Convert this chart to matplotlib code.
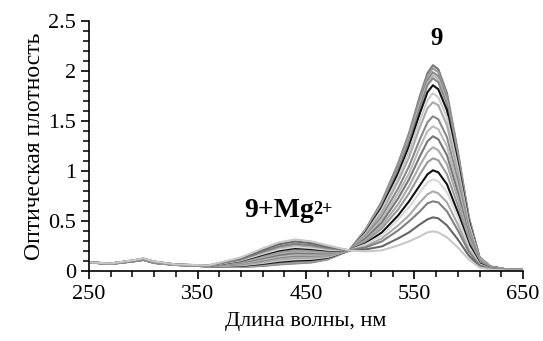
import matplotlib
matplotlib.use("Agg")
import matplotlib.pyplot as plt
from matplotlib.ticker import MultipleLocator, FuncFormatter

plt.rcParams['font.family'] = ['Liberation Serif', 'DejaVu Serif']

# wavelength grid, nm
wavelength = [250, 270, 290, 300, 310, 330, 360, 390, 410, 425, 440, 455, 470, 490,
              505, 520, 535, 545, 555, 562, 567, 572, 580, 590, 600, 610, 620, 635, 650]

# titration spectra, free 9 (top) -> 9+Mg2+ (bottom)
spectra = [
    [.09, .075, .10, .115, .085, .065, .050, .045, .055, .070, .080, .090, .120, .21,
     .42, .70, 1.08, 1.38, 1.75, 1.98, 2.06, 2.02, 1.78, 1.20, .55, .14, .050, .02, .02],
    [.09, .075, .10, .115, .085, .065, .050, .046, .058, .074, .084, .094, .123, .21,
     .42, .69, 1.07, 1.36, 1.72, 1.95, 2.03, 1.99, 1.75, 1.18, .54, .14, .049, .02, .02],
    [.09, .075, .10, .116, .086, .065, .050, .049, .063, .079, .090, .099, .126, .21,
     .41, .68, 1.05, 1.33, 1.69, 1.91, 1.99, 1.95, 1.72, 1.16, .53, .14, .049, .02, .02],
    [.09, .075, .10, .116, .086, .065, .051, .051, .065, .083, .094, .103, .128, .21,
     .41, .67, 1.03, 1.32, 1.67, 1.88, 1.96, 1.92, 1.69, 1.14, .52, .14, .048, .02, .02],
    [.09, .075, .10, .116, .086, .065, .051, .053, .069, .087, .099, .106, .131, .21,
     .40, .66, 1.02, 1.30, 1.64, 1.86, 1.93, 1.89, 1.67, 1.13, .52, .14, .048, .02, .02],
    [.09, .076, .101, .117, .087, .066, .051, .056, .076, .096, .109, .115, .137, .21,
     .39, .64, .98, 1.25, 1.58, 1.79, 1.86, 1.82, 1.61, 1.08, .50, .13, .046, .02, .02],
    [.09, .076, .102, .118, .088, .066, .052, .061, .084, .107, .121, .126, .144, .21,
     .38, .62, .94, 1.20, 1.51, 1.71, 1.78, 1.74, 1.54, 1.04, .48, .13, .045, .02, .02],
    [.09, .076, .102, .118, .088, .066, .052, .066, .094, .119, .134, .137, .151, .21,
     .37, .59, .90, 1.14, 1.44, 1.63, 1.69, 1.66, 1.46, .99, .45, .12, .043, .02, .02],
    [.09, .077, .103, .120, .090, .067, .053, .074, .109, .138, .154, .155, .163, .21,
     .35, .55, .83, 1.05, 1.32, 1.49, 1.55, 1.52, 1.34, .91, .42, .11, .041, .02, .02],
    [.09, .077, .104, .121, .091, .067, .054, .080, .119, .151, .168, .167, .171, .21,
     .34, .52, .78, .98, 1.24, 1.40, 1.45, 1.42, 1.25, .85, .39, .10, .039, .02, .02],
    [.09, .077, .104, .121, .091, .067, .054, .086, .130, .164, .183, .180, .180, .21,
     .33, .49, .73, .92, 1.15, 1.30, 1.35, 1.32, 1.16, .79, .37, .10, .037, .02, .02],
    [.09, .078, .105, .122, .092, .067, .055, .092, .142, .179, .199, .194, .189, .21,
     .31, .46, .67, .85, 1.06, 1.19, 1.24, 1.21, 1.07, .73, .34, .09, .035, .02, .02],
    [.09, .078, .106, .123, .093, .068, .056, .098, .153, .193, .214, .208, .198, .21,
     .30, .43, .62, .78, .97, 1.09, 1.13, 1.11, .97, .66, .31, .09, .033, .015, .015],
    [.09, .078, .106, .124, .095, .068, .056, .106, .166, .209, .232, .223, .209, .21,
     .28, .39, .56, .70, .86, .97, 1.01, .99, .87, .59, .28, .08, .031, .015, .015],
    [.09, .078, .107, .125, .095, .068, .057, .111, .176, .221, .245, .234, .216, .21,
     .27, .36, .52, .64, .79, .89, .92, .90, .79, .54, .25, .07, .029, .015, .015],
    [.09, .079, .108, .126, .096, .069, .058, .117, .188, .237, .262, .249, .226, .21,
     .25, .33, .46, .56, .69, .77, .80, .78, .69, .47, .22, .06, .027, .015, .015],
    [.09, .079, .108, .127, .097, .069, .058, .122, .198, .250, .277, .262, .235, .21,
     .24, .30, .41, .50, .60, .68, .70, .69, .60, .41, .20, .06, .025, .015, .015],
    [.09, .080, .109, .129, .099, .070, .059, .132, .215, .272, .300, .282, .248, .21,
     .22, .25, .33, .39, .47, .52, .54, .53, .46, .32, .16, .05, .023, .01, .01],
    [.09, .080, .110, .130, .100, .070, .060, .140, .230, .290, .320, .300, .260, .21,
     .20, .21, .26, .30, .35, .39, .40, .39, .34, .24, .12, .04, .020, .01, .01],
]

line_colors = ['#777777', '#999999', '#888888', '#bbbbbb', '#8a8a8a', '#111111',
               '#cccccc', '#aaaaaa', '#888888', '#bbbbbb', '#777777', '#aaaaaa',
               '#999999', '#111111', '#d9d9d9', '#aaaaaa', '#808080', '#666666',
               '#c8c8c8']

x_ticks = [250, 350, 450, 550, 650]

fig = plt.figure(figsize=(5.43, 3.41), dpi=100)
ax = fig.add_axes([0.164, 0.204, 0.799, 0.734])

for spec, col in zip(spectra, line_colors):
    ax.plot(wavelength, spec, color=col, lw=1.5, solid_joinstyle='round')

ax.set_xlim(250, 650)
ax.set_ylim(0, 2.5)
ax.set_xticks(x_ticks)
ax.xaxis.set_minor_locator(MultipleLocator(20, offset=10))
ax.yaxis.set_major_locator(MultipleLocator(0.5))
ax.yaxis.set_minor_locator(MultipleLocator(0.1))
ax.yaxis.set_major_formatter(FuncFormatter(lambda v, p: '%g' % v))

for side in ['top', 'right']:
    ax.spines[side].set_visible(False)
for side in ['left', 'bottom']:
    ax.spines[side].set_linewidth(1.2)
ax.tick_params(which='major', direction='out', length=6, width=1.2, labelsize=16)
ax.tick_params(which='minor', direction='out', length=4, width=1.1)

ax.set_xlabel('Длина волны, нм', fontsize=16, labelpad=6)
ax.set_ylabel('Оптическая плотность', fontsize=17, labelpad=2)

ax.text(570, 2.33, '9', fontsize=18, fontweight='bold', ha='center', va='center')
mg = ax.text(393, 0.61, '9+Mg', fontsize=20, fontweight='bold', ha='left', va='center')
ax.annotate('2+', xy=(0.99, 0.88), xycoords=mg, fontsize=13, fontweight='bold',
            ha='left', va='top')

fig.savefig('out.png', dpi=100)
